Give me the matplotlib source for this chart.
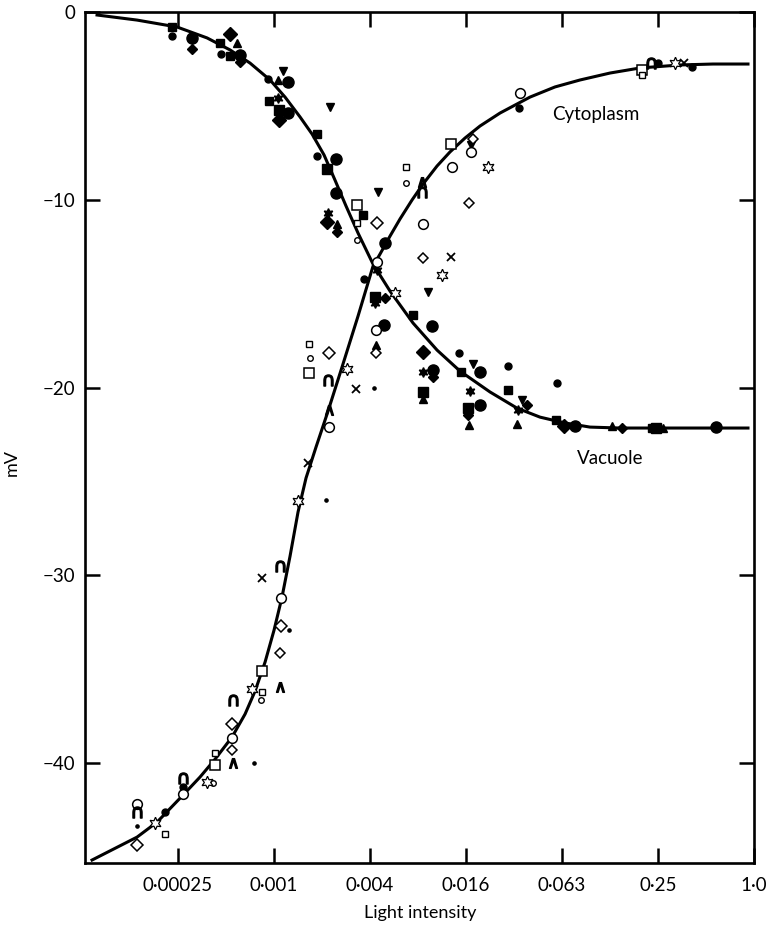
import matplotlib
matplotlib.use("Agg")
import matplotlib.pyplot as plt
from matplotlib.ticker import FixedLocator, NullLocator

plt.rcParams['font.family'] = ['Lato', 'DejaVu Sans']

# fitted curves (light intensity, mV)
vac_curve_x = [7.576e-5, 1.35e-4, 2.407e-4, 3.71e-4, 5.173e-4, 6.905e-4, 9.219e-4, 1.1446e-3,
               1.422e-3, 1.6915e-3, 2.01e-3, 2.355e-3, 2.762e-3, 3.285e-3, 4.079e-3, 5.215e-3,
               7.269e-3, 0.01028, 0.01433, 0.02209, 0.03263, 0.0455, 0.06527, 0.09363,
               0.1444, 0.917]
vac_curve_y = [-0.16, -0.43, -0.80, -1.38, -2.02, -2.72, -3.62, -4.53,
               -5.59, -6.50, -7.61, -8.95, -10.33, -11.77, -13.42, -14.86,
               -16.56, -18.00, -19.12, -20.23, -21.09, -21.57, -21.88, -22.10,
               -22.15, -22.15]

cyt_curve_x = [7.05e-5, 1.35e-4, 1.803e-4, 2.624e-4, 3.354e-4, 4.167e-4, 5.325e-4, 6.426e-4,
               7.422e-4, 8.579e-4, 9.766e-4, 1.0957e-3, 1.2305e-3, 1.381e-3, 1.55e-3, 1.791e-3,
               2.13e-3, 2.644e-3, 3.285e-3, 4.079e-3, 4.511e-3, 5.215e-3, 6.023e-3, 7.164e-3,
               8.398e-3, 0.01028, 0.0124, 0.0154, 0.01913, 0.02553, 0.03938, 0.0565,
               0.08106, 0.125, 0.1928, 0.3435, 0.553, 0.917]
cyt_curve_y = [-45.15, -43.93, -43.13, -41.69, -40.73, -39.78, -38.60, -37.38,
               -36.16, -34.61, -32.91, -31.15, -28.97, -26.62, -24.81, -23.16,
               -21.25, -18.74, -16.19, -13.53, -12.89, -11.93, -11.02, -10.01,
               -9.16, -8.20, -7.45, -6.71, -6.07, -5.38, -4.53, -3.99,
               -3.62, -3.25, -2.98, -2.82, -2.77, -2.77]

# measured points, one pair of lists per symbol
fcirc_big_x = [2.988e-4, 5.977e-4, 1.195e-3, 1.195e-3, 2.391e-3, 2.391e-3, 4.851e-3, 4.781e-3,
               9.563e-3, 9.703e-3, 0.01913, 0.01913, 0.07538, 0.5775]
fcirc_big_y = [-1.38, -2.29, -3.73, -5.38, -7.83, -9.64, -12.30, -16.67,
               -16.72, -19.06, -19.17, -20.93, -22.04, -22.10]
fcirc_x = [2.239e-4, 4.543e-4, 8.955e-4, 1.817e-3, 3.582e-3, 0.01413, 0.02866, 0.05816,
           0.03359, 0.25, 0.4085, 2.024e-4, 2.624e-4]
fcirc_y = [-1.28, -2.24, -3.57, -7.67, -14.22, -18.16, -18.85, -19.76,
           -5.11, -2.72, -2.93, -42.60, -41.27]
dot_x = [1.35e-4, 2.069e-3, 7.315e-4, 4.139e-3, 1.213e-3]
dot_y = [-43.34, -25.99, -39.99, -20.02, -32.91]

fsq_x = [2.239e-4, 4.477e-4, 5.173e-4, 9.087e-4, 1.817e-3, 3.531e-3, 7.269e-3, 0.01454,
         0.02866, 0.05731, 0.2293]
fsq_y = [-0.80, -1.65, -2.34, -4.74, -6.50, -10.81, -16.13, -19.17,
         -20.13, -21.73, -22.15]
fsq_big_x = [1.0498e-3, 2.1e-3, 4.199e-3, 8.398e-3, 0.01608, 0.2429]
fsq_big_y = [-5.22, -8.36, -15.18, -20.23, -21.09, -22.15]

fdia_x = [2.988e-4, 5.977e-4, 2.426e-3, 4.851e-3, 9.703e-3, 0.01608, 0.03769, 0.1486]
fdia_y = [-1.97, -2.66, -11.71, -15.23, -19.44, -21.46, -20.93, -22.15]
fdia_big_x = [5.173e-4, 1.0498e-3, 2.1e-3, 8.398e-3, 0.06433]
fdia_big_y = [-1.17, -5.75, -11.18, -18.10, -22.04]

ftri_x = [5.723e-4, 1.0347e-3, 2.426e-3, 4.26e-3, 8.398e-3, 0.01632, 0.03263, 0.1287, 0.2688]
ftri_y = [-1.65, -3.62, -11.29, -17.73, -20.61, -21.99, -21.94, -22.04, -22.15]
ftrid_x = [1.112e-3, 2.191e-3, 4.383e-3, 9.023e-3, 0.01728, 0.03506, 0.0168]
ftrid_y = [-3.14, -5.06, -9.58, -14.91, -18.74, -20.66, -7.08]
fstar_x = [1.0347e-3, 2.13e-3, 4.32e-3, 4.199e-3, 8.398e-3, 0.01655, 0.03311]
fstar_y = [-4.58, -10.70, -13.74, -15.50, -19.17, -20.18, -21.19]

ocirc_x = [0.03408, 0.0168, 0.01277, 8.398e-3, 4.26e-3, 2.16e-3, 1.08e-3, 5.325e-4,
           1.35e-4, 2.624e-4, 4.32e-3]
ocirc_y = [-4.31, -7.45, -8.25, -11.29, -16.93, -22.10, -31.20, -38.66,
           -42.17, -41.64, -13.31]
ocirc_small_x = [6.57e-3, 3.238e-3, 1.643e-3, 8.096e-4, 4.047e-4]
ocirc_small_y = [-9.11, -12.14, -18.42, -36.64, -41.05]
osq_x = [3.238e-3, 0.1984, 0.01259, 1.619e-3, 8.213e-4, 4.167e-4]
osq_y = [-10.28, -3.09, -7.03, -19.22, -35.09, -40.10]
osq_small_x = [3.238e-3, 6.57e-3, 1.619e-3, 8.213e-4, 2.024e-4, 0.1984, 4.167e-4]
osq_small_y = [-11.24, -8.25, -17.68, -36.21, -43.77, -3.35, -39.46]
odia_x = [0.01728, 0.01632, 8.398e-3, 4.26e-3, 1.065e-3, 5.325e-4]
odia_y = [-6.76, -10.17, -13.10, -18.16, -34.13, -39.30]
odia_big_x = [4.32e-3, 2.16e-3, 1.08e-3, 5.325e-4, 1.35e-4]
odia_big_y = [-11.24, -18.16, -32.69, -37.91, -44.36]
ostar_x = [0.3195, 0.02147, 0.01105, 5.605e-3, 2.803e-3, 1.381e-3, 7.11e-4, 3.71e-4, 1.752e-4]
ostar_y = [-2.72, -8.25, -14.00, -14.96, -19.01, -26.04, -36.05, -41.00, -43.18]
cross_x = [0.364, 0.01259, 3.191e-3, 1.596e-3, 8.213e-4]
cross_y = [-2.72, -13.05, -20.07, -24.02, -30.14]
cap_x = [0.226, 8.277e-3, 2.13e-3, 1.065e-3, 5.4e-4, 2.624e-4, 1.35e-4]
cap_y = [-2.72, -9.58, -19.60, -29.50, -36.64, -40.79, -42.60]
wedge_x = [2.16e-3, 1.065e-3, 5.4e-4, 8.277e-3]
wedge_y = [-21.19, -35.94, -39.99, -9.05]

xtick_vals = [4.0 ** -6, 4.0 ** -5, 4.0 ** -4, 4.0 ** -3, 4.0 ** -2, 4.0 ** -1, 1.0]
xtick_labels = ['0·00025', '0·001', '0·004', '0·016', '0·063', '0·25', '1·0']
ytick_vals = [0, -10, -20, -30, -40]
ytick_labels = ['0', '\u221210', '\u221220', '\u221230', '\u221240']

fig = plt.figure(figsize=(7.73, 9.30), dpi=100)
ax = fig.add_axes([0.110, 0.072, 0.8654, 0.9151])

ax.plot(vac_curve_x, vac_curve_y, color='black', lw=2.2, zorder=2)
ax.plot(cyt_curve_x, cyt_curve_y, color='black', lw=2.2, zorder=2)


def pts(x, y, marker, size, filled=True, lw=1.1):
    if filled:
        ax.plot(x, y, linestyle='none', marker=marker, markersize=size,
                color='black', zorder=3)
    else:
        ax.plot(x, y, linestyle='none', marker=marker, markersize=size,
                markerfacecolor='white', markeredgecolor='black',
                markeredgewidth=lw, zorder=3)


pts(fcirc_big_x, fcirc_big_y, 'o', 8)
pts(fcirc_x, fcirc_y, 'o', 5)
pts(dot_x, dot_y, 'o', 2.3)
pts(fsq_x, fsq_y, 's', 5.5)
pts(fsq_big_x, fsq_big_y, 's', 7.5)
pts(fdia_x, fdia_y, 'D', 5)
pts(fdia_big_x, fdia_big_y, 'D', 6.8)
pts(ftri_x, ftri_y, '^', 6)
pts(ftrid_x, ftrid_y, 'v', 6)
pts(fstar_x, fstar_y, (6, 1, 0), 7)
pts(ocirc_x, ocirc_y, 'o', 7, filled=False)
pts(ocirc_small_x, ocirc_small_y, 'o', 4, filled=False, lw=1.0)
pts(osq_x, osq_y, 's', 7, filled=False)
pts(osq_small_x, osq_small_y, 's', 4.5, filled=False, lw=1.0)
pts(odia_x, odia_y, 'D', 4.8, filled=False)
pts(odia_big_x, odia_big_y, 'D', 6.5, filled=False)
pts(ostar_x, ostar_y, (6, 1, 0), 9, filled=False, lw=0.9)
ax.plot(cross_x, cross_y, linestyle='none', marker='x', markersize=6,
        markeredgewidth=1.3, color='black', zorder=3)
ax.plot(cap_x, cap_y, linestyle='none', marker=r'$\cap$', markersize=8,
        color='black', zorder=3)
ax.plot(wedge_x, wedge_y, linestyle='none', marker=r'$\wedge$', markersize=7,
        color='black', zorder=3)

# axes
ax.set_xscale('log')
ax.set_xlim(6.37e-5, 1.0)
ax.set_ylim(-45.31, 0)
ax.xaxis.set_major_locator(FixedLocator(xtick_vals))
ax.xaxis.set_minor_locator(NullLocator())
ax.set_xticklabels(xtick_labels)
ax.set_yticks(ytick_vals)
ax.set_yticklabels(ytick_labels)
ax.tick_params(direction='in', length=11, width=1.8, labelsize=13.5,
               top=True, right=True)
ax.tick_params(axis='x', pad=10)
ax.tick_params(axis='y', pad=7)
for s in ax.spines.values():
    s.set_linewidth(1.9)

ax.text(0.102, -5.45, 'Cytoplasm', fontsize=13.5, ha='center', va='center')
ax.text(0.125, -23.75, 'Vacuole', fontsize=13.5, ha='center', va='center')

fig.text(0.5433, 1 - 913 / 930, 'Light intensity', fontsize=13, ha='center', va='center')
fig.text(12 / 773, 1 - 463 / 930, 'mV', fontsize=13, rotation=90, ha='center', va='center')

fig.savefig('out.png', dpi=100)
